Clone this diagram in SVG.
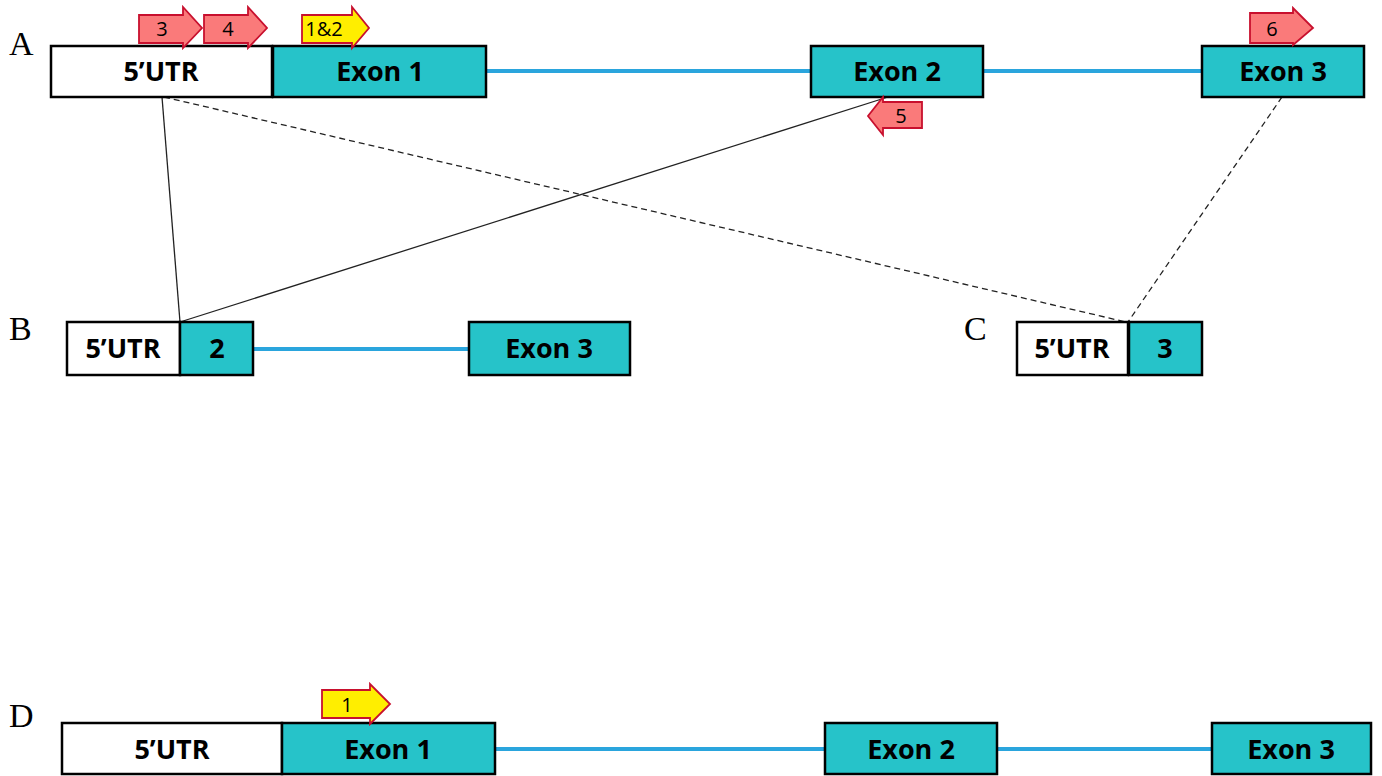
<svg xmlns="http://www.w3.org/2000/svg" width="1382" height="776" viewBox="0 0 1382 776">
<defs>
<style>
.utr{fill:#ffffff;stroke:#000;stroke-width:2.5}
.exon{fill:#26c3c9;stroke:#000;stroke-width:2.5}
.t{font-family:"Open Sans","Liberation Sans",sans-serif;font-weight:bold;font-size:27px;fill:#000;text-anchor:middle}
.lab{font-family:"Liberation Serif","Times New Roman",serif;font-size:34px;fill:#000}
.intron{stroke:#2aa5dd;stroke-width:4;fill:none}
.red{fill:#fa7a7a;stroke:#c8102e;stroke-width:1.8}
.yel{fill:#ffee00;stroke:#c8102e;stroke-width:1.8}
.at{font-family:"Open Sans","Liberation Sans",sans-serif;font-size:20px;fill:#000;text-anchor:middle}
.solid{stroke:#222;stroke-width:1.3;fill:none}
.dash{stroke:#222;stroke-width:1.3;fill:none;stroke-dasharray:6 4}
</style>
</defs>
<rect width="1382" height="776" fill="#fff"/>
<g id="connectors">
<line class="intron" x1="486" y1="71" x2="811" y2="71"/>
<line class="intron" x1="983" y1="71" x2="1202" y2="71"/>
<line class="intron" x1="253" y1="349" x2="469" y2="349"/>
<line class="intron" x1="495" y1="749" x2="825" y2="749"/>
<line class="intron" x1="997" y1="749" x2="1212" y2="749"/>
<line class="solid" x1="162" y1="97" x2="180" y2="322"/>
<line class="solid" x1="888" y1="97" x2="180" y2="322"/>
<line class="dash" x1="164" y1="97" x2="1126" y2="322"/>
<line class="dash" x1="1282" y1="97" x2="1128" y2="322"/>
</g>
<g id="labels">
<text class="lab" x="9" y="55">A</text>
<text class="lab" x="9" y="340">B</text>
<text class="lab" x="964" y="340">C</text>
<text class="lab" x="9" y="727">D</text>
</g>
<g id="A-utr"><rect class="utr" x="51" y="46" width="221" height="51"/><text class="t" x="161" y="81">5’UTR</text></g>
<g id="A-exon1"><rect class="exon" x="273" y="46" width="213" height="51"/><text class="t" x="380" y="81">Exon 1</text></g>
<g id="A-exon2"><rect class="exon" x="811" y="46" width="172" height="51"/><text class="t" x="897" y="81">Exon 2</text></g>
<g id="A-exon3"><rect class="exon" x="1202" y="46" width="162" height="51"/><text class="t" x="1283" y="81">Exon 3</text></g>
<g id="primer3"><path class="red" d="M139,15 H183 V7 L202,28 L183,48 V43 H139 Z"/><text class="at" x="162" y="36">3</text></g>
<g id="primer4"><path class="red" d="M204,15 H248 V7 L267,28 L248,48 V43 H204 Z"/><text class="at" x="228" y="36">4</text></g>
<g id="primer12"><path class="yel" d="M302,15 H352 V7 L369,28 L352,48 V43 H302 Z"/><text class="at" x="324" y="36">1&amp;2</text></g>
<g id="primer5"><path class="red" d="M922,102 H883 V97 L868,116 L883,135 V128 H922 Z"/><text class="at" x="901" y="123">5</text></g>
<g id="primer6"><path class="red" d="M1250,13 H1293 V8 L1313,28 L1293,45 V43 H1250 Z"/><text class="at" x="1272" y="36">6</text></g>
<g id="B-utr"><rect class="utr" x="67" y="322" width="113" height="53"/><text class="t" x="123" y="358">5’UTR</text></g>
<g id="B-exon2"><rect class="exon" x="180" y="322" width="73" height="53"/><text class="t" x="217" y="358">2</text></g>
<g id="B-exon3"><rect class="exon" x="469" y="322" width="161" height="53"/><text class="t" x="549" y="358">Exon 3</text></g>
<g id="C-utr"><rect class="utr" x="1017" y="322" width="111" height="53"/><text class="t" x="1072" y="358">5’UTR</text></g>
<g id="C-exon3"><rect class="exon" x="1129" y="322" width="73" height="53"/><text class="t" x="1165" y="358">3</text></g>
<g id="D-utr"><rect class="utr" x="62" y="723" width="220" height="51"/><text class="t" x="172" y="759">5’UTR</text></g>
<g id="D-exon1"><rect class="exon" x="282" y="723" width="213" height="51"/><text class="t" x="388" y="759">Exon 1</text></g>
<g id="D-exon2"><rect class="exon" x="825" y="723" width="172" height="51"/><text class="t" x="911" y="759">Exon 2</text></g>
<g id="D-exon3"><rect class="exon" x="1212" y="723" width="159" height="51"/><text class="t" x="1291" y="759">Exon 3</text></g>
<g id="primer1"><path class="yel" d="M322,690 H370 V684 L390,704 L370,724 V718 H322 Z"/><text class="at" x="347" y="712">1</text></g>
</svg>
